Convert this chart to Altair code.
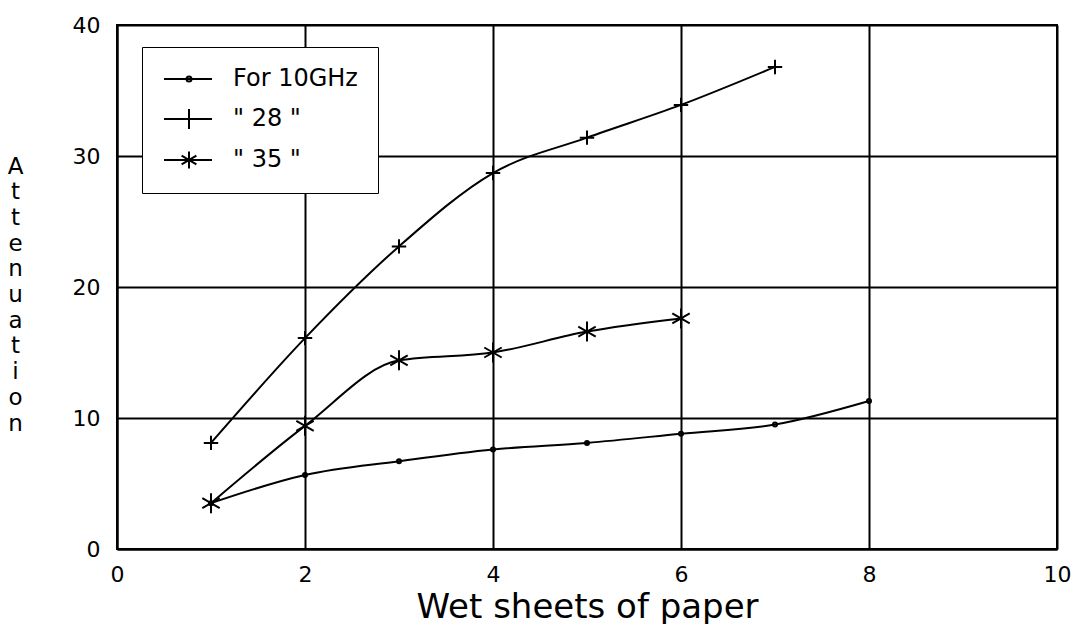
import altair as alt
import pandas as pd

# ---- data ----
series_names = ["For 10GHz", '"  28  "', '"  35  "']
sheets_10 = [1, 2, 3, 4, 5, 6, 7, 8]
atten_10 = [3.5, 5.65, 6.7, 7.6, 8.1, 8.8, 9.5, 11.3]
sheets_28 = [1, 2, 3, 4, 5, 6, 7]
atten_28 = [8.1, 16.1, 23.1, 28.7, 31.4, 33.9, 36.8]
sheets_35 = [1, 2, 3, 4, 5, 6]
atten_35 = [3.5, 9.4, 14.4, 15.0, 16.6, 17.6]
x_ticks = [0, 2, 4, 6, 8, 10]
y_ticks = [0, 10, 20, 30, 40]
x_title = "Wet sheets of paper"
y_title = "Attenuation"

rows = []
for name, xs, ys in zip(series_names, [sheets_10, sheets_28, sheets_35], [atten_10, atten_28, atten_35]):
    for xv, yv in zip(xs, ys):
        rows.append({"series": name, "sheets": xv, "atten": yv})
df = pd.DataFrame(rows)

FONT = "DejaVu Sans"

# marker shapes (plot)
plus = "M-1,0H1M0,-1V1"
aster = "M0,-1V1M-0.87,-0.5L0.87,0.5M-0.87,0.5L0.87,-0.5"
# legend symbols: line sample with marker
leg_dot = "M-1,0H3.8M1.75,0A0.25,0.25 0 1 1 1.25,0A0.25,0.25 0 1 1 1.75,0"
leg_plus = "M-1,0H3.8M1.5,-1V1"
leg_aster = "M-1,0H3.8M1.5,-0.85V0.85M0.76,-0.43L2.24,0.43M0.76,0.43L2.24,-0.43"

x_enc = alt.X("sheets:Q", scale=alt.Scale(domain=[0, 10], nice=False),
              axis=alt.Axis(values=x_ticks, title=x_title, titleFontSize=34,
                            titleFont=FONT, titleFontWeight="normal",
                            titleBaseline="alphabetic", titleY=68,
                            labelFontSize=22, labelPadding=15, labelFlush=False,
                            format="d"))
y_enc = alt.Y("atten:Q", scale=alt.Scale(domain=[0, 40], nice=False),
              axis=alt.Axis(values=y_ticks, title=list(y_title), titleAngle=0,
                            titleFontSize=23, titleFont=FONT, titleFontWeight="normal",
                            titleAlign="center", titleBaseline="alphabetic",
                            titleX=-102, titleY=148, titleLineHeight=25.7,
                            labelFontSize=22, labelPadding=17, labelFlush=False))

lines = alt.Chart(df).mark_line(interpolate="monotone", color="black", strokeWidth=2).encode(
    x=x_enc, y=y_enc, detail="series:N")

points = alt.Chart(df).mark_point(filled=False, color="black", strokeWidth=2, opacity=1).encode(
    x=x_enc, y=y_enc,
    shape=alt.Shape("series:N", scale=alt.Scale(domain=series_names, range=["circle", plus, aster]),
                    legend=None),
    size=alt.Size("series:N", scale=alt.Scale(domain=series_names, range=[16, 400, 400]), legend=None),
)

legend_layer = alt.Chart(df).mark_point(filled=False, color="black", opacity=0).encode(
    x=x_enc, y=y_enc,
    shape=alt.Shape("series:N", scale=alt.Scale(domain=series_names, range=[leg_dot, leg_plus, leg_aster]),
                    legend=alt.Legend(title=None, orient="none", legendX=25, legendY=22,
                                      fillColor="white", strokeColor="black", padding=20,
                                      symbolSize=400, symbolStrokeWidth=2, symbolStrokeColor="black",
                                      symbolFillColor="transparent", symbolOpacity=1,
                                      labelFont=FONT, labelFontSize=24, labelColor="black",
                                      labelOffset=47, rowPadding=14)),
)

chart = alt.layer(lines, points, legend_layer).resolve_scale(
    shape="independent", size="independent"
).properties(
    width=940, height=524,
    autosize=alt.AutoSizeParams(type="none"),
    padding={"left": 109, "top": 17, "right": 16, "bottom": 75},
).configure_view(
    stroke="black", strokeWidth=2
).configure_axis(
    domainColor="black", domainWidth=2, grid=True, gridColor="black", gridWidth=2,
    gridOpacity=1, ticks=False, tickSize=0, labelColor="black", titleColor="black",
    labelFont=FONT,
)

chart.save("out.html", embed_options={"renderer": "svg", "actions": False})
